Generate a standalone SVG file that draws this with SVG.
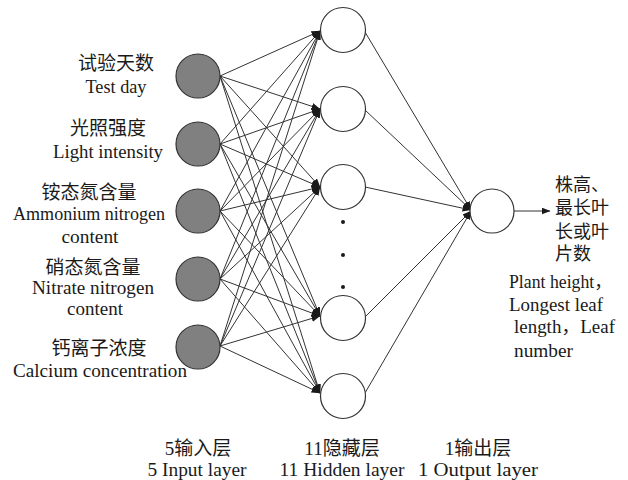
<svg xmlns="http://www.w3.org/2000/svg" width="628" height="480" viewBox="0 0 628 480">
<defs>
<marker id="ah" markerUnits="userSpaceOnUse" markerWidth="9" markerHeight="7" refX="8.5" refY="3.5" orient="auto">
<path d="M0,0 L9,3.5 L0,7 z" fill="#1a1a1a"/>
</marker>
<style>
.t{font-family:"Liberation Serif","Noto Sans CJK SC",serif;fill:#1a1a1a}
.cn{font-size:19px}
.en{font-size:18px}
.rcn{font-size:18px}
.ren{font-size:18px}
.m{text-anchor:middle}
.in{fill:#808080;stroke:#333;stroke-width:1.2}
.hn{fill:#fff;stroke:#333;stroke-width:1.2}
.c line{stroke:#333;stroke-width:1;marker-end:url(#ah)}
</style>
</defs>
<rect width="628" height="480" fill="#fff"/>
<g class="c" id="connectors">
<line x1="220" y1="76" x2="320" y2="31"/><line x1="220" y1="76" x2="320" y2="109"/><line x1="220" y1="76" x2="320" y2="187"/><line x1="220" y1="76" x2="320" y2="316"/><line x1="220" y1="76" x2="320" y2="393"/>
<line x1="220" y1="144" x2="320" y2="31"/><line x1="220" y1="144" x2="320" y2="109"/><line x1="220" y1="144" x2="320" y2="187"/><line x1="220" y1="144" x2="320" y2="316"/><line x1="220" y1="144" x2="320" y2="393"/>
<line x1="220" y1="211" x2="320" y2="31"/><line x1="220" y1="211" x2="320" y2="109"/><line x1="220" y1="211" x2="320" y2="187"/><line x1="220" y1="211" x2="320" y2="316"/><line x1="220" y1="211" x2="320" y2="393"/>
<line x1="220" y1="279" x2="320" y2="31"/><line x1="220" y1="279" x2="320" y2="109"/><line x1="220" y1="279" x2="320" y2="187"/><line x1="220" y1="279" x2="320" y2="316"/><line x1="220" y1="279" x2="320" y2="393"/>
<line x1="220" y1="346" x2="320" y2="31"/><line x1="220" y1="346" x2="320" y2="109"/><line x1="220" y1="346" x2="320" y2="187"/><line x1="220" y1="346" x2="320" y2="316"/><line x1="220" y1="346" x2="320" y2="393"/>
<line x1="365" y1="32" x2="471" y2="210"/><line x1="365" y1="110" x2="471" y2="210"/><line x1="365" y1="187" x2="471" y2="210"/><line x1="365" y1="317" x2="471" y2="211"/><line x1="365" y1="393" x2="471" y2="211"/>
<line x1="514" y1="211" x2="550" y2="211"/>
</g>
<g id="in1"><circle class="in" cx="198" cy="76" r="22"/><text class="t cn m" x="116" y="70">试验天数</text><text class="t en m" x="116" y="93" textLength="61" lengthAdjust="spacingAndGlyphs">Test day</text></g>
<g id="in2"><circle class="in" cx="198" cy="144" r="22"/><text class="t cn m" x="108" y="135">光照强度</text><text class="t en m" x="108" y="158" textLength="110" lengthAdjust="spacingAndGlyphs">Light intensity</text></g>
<g id="in3"><circle class="in" cx="198" cy="211" r="22"/><text class="t cn m" x="89" y="199">铵态氮含量</text><text class="t en m" x="89" y="220" textLength="152" lengthAdjust="spacingAndGlyphs">Ammonium nitrogen</text><text class="t en m" x="90" y="243" textLength="57" lengthAdjust="spacingAndGlyphs">content</text></g>
<g id="in4"><circle class="in" cx="198" cy="279" r="22"/><text class="t cn m" x="93" y="274">硝态氮含量</text><text class="t en m" x="93" y="294" textLength="122" lengthAdjust="spacingAndGlyphs">Nitrate nitrogen</text><text class="t en m" x="95" y="315" textLength="56" lengthAdjust="spacingAndGlyphs">content</text></g>
<g id="in5"><circle class="in" cx="198" cy="347" r="22"/><text class="t cn m" x="99" y="355">钙离子浓度</text><text class="t en m" x="100" y="377" textLength="174" lengthAdjust="spacingAndGlyphs">Calcium concentration</text></g>
<g id="h1"><circle class="hn" cx="343" cy="30" r="22.5"/></g>
<g id="h2"><circle class="hn" cx="343" cy="109" r="22.5"/></g>
<g id="h3"><circle class="hn" cx="343" cy="187" r="22.5"/></g>
<g id="dots"><circle cx="343" cy="222" r="2" fill="#1a1a1a"/><circle cx="343" cy="255" r="2" fill="#1a1a1a"/><circle cx="343" cy="287" r="2" fill="#1a1a1a"/></g>
<g id="h4"><circle class="hn" cx="343" cy="318" r="22.5"/></g>
<g id="h5"><circle class="hn" cx="343" cy="396" r="22.5"/></g>
<g id="out"><circle class="hn" cx="492" cy="211" r="22"/>
<text class="t rcn" x="555" y="191">株高、</text><text class="t rcn" x="555" y="214">最长叶</text><text class="t rcn" x="555" y="238">长或叶</text><text class="t rcn" x="555" y="260">片数</text>
<text class="t ren" x="509" y="288" textLength="103" lengthAdjust="spacingAndGlyphs">Plant height，</text><text class="t ren" x="509" y="311" textLength="94" lengthAdjust="spacingAndGlyphs">Longest leaf</text><text class="t ren" x="514" y="333" textLength="101" lengthAdjust="spacingAndGlyphs">length，Leaf</text><text class="t ren" x="514" y="357" textLength="59" lengthAdjust="spacingAndGlyphs">number</text></g>
<g id="labels">
<text class="t cn m" x="198" y="455">5输入层</text><text class="t en m" x="197" y="476" textLength="99" lengthAdjust="spacingAndGlyphs">5 Input layer</text>
<text class="t cn m" x="342" y="455">11隐藏层</text><text class="t en m" x="342" y="476" textLength="125" lengthAdjust="spacingAndGlyphs">11 Hidden layer</text>
<text class="t cn m" x="478" y="455">1输出层</text><text class="t en m" x="478" y="476" textLength="120" lengthAdjust="spacingAndGlyphs">1 Output layer</text>
</g>
</svg>
